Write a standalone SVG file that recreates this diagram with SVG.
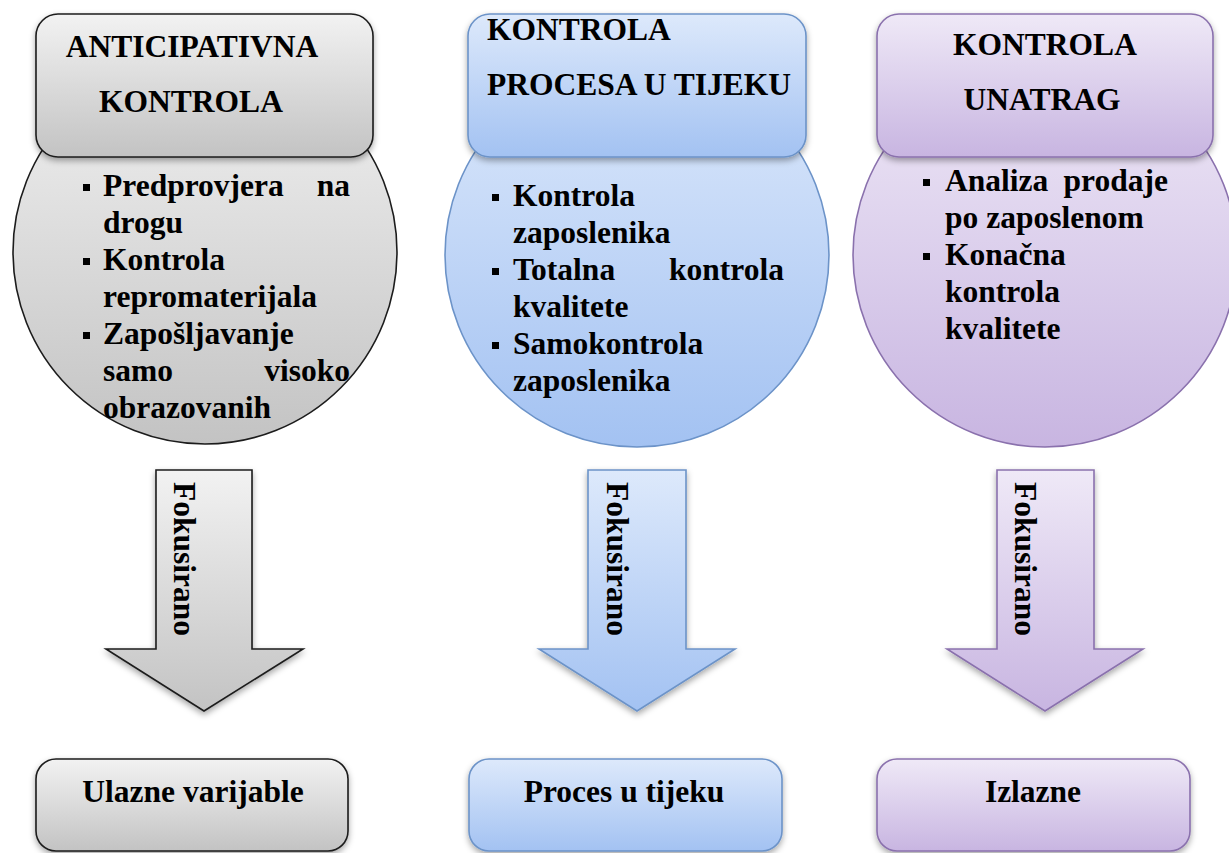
<svg xmlns="http://www.w3.org/2000/svg" width="1229" height="853" viewBox="0 0 1229 853">
<defs>
<linearGradient id="gGray" x1="0" y1="0" x2="0" y2="1"><stop offset="0" stop-color="#f2f2f2"/><stop offset="1" stop-color="#c3c3c3"/></linearGradient>
<linearGradient id="gBlue" x1="0" y1="0" x2="0" y2="1"><stop offset="0" stop-color="#dde9fb"/><stop offset="1" stop-color="#a3c2f2"/></linearGradient>
<linearGradient id="gPurple" x1="0" y1="0" x2="0" y2="1"><stop offset="0" stop-color="#efe9f7"/><stop offset="1" stop-color="#c8b5e1"/></linearGradient>
<filter id="sh" x="-10%" y="-10%" width="120%" height="130%"><feDropShadow dx="0" dy="3" stdDeviation="3" flood-color="#000" flood-opacity="0.35"/></filter>
<style>
text{font-family:"Liberation Serif","Times New Roman",serif;font-weight:bold;font-size:31.5px;fill:#000}
.gray{fill:url(#gGray);stroke:#1c1c1c;stroke-width:1.6}
.blue{fill:url(#gBlue);stroke:#6c93c8;stroke-width:1.6}
.purple{fill:url(#gPurple);stroke:#8a71ad;stroke-width:1.6}
.box{filter:url(#sh)}
.b{fill:#000}
.mid{text-anchor:middle}
.end{text-anchor:end}
</style>
</defs>
<rect width="1229" height="853" fill="#fff"/>

<!-- Column 1 -->
<g id="circle-anticipativna">
<circle class="gray" cx="205" cy="252" r="192"/>
<rect class="b" x="83" y="184" width="7" height="7"/>
<text x="103" y="196">Predprovjera</text><text class="end" x="350" y="196">na</text>
<text x="103" y="233">drogu</text>
<rect class="b" x="83" y="258" width="7" height="7"/>
<text x="103" y="270">Kontrola</text>
<text x="103" y="307">repromaterijala</text>
<rect class="b" x="83" y="332" width="7" height="7"/>
<text x="103" y="344">Zapošljavanje</text>
<text x="103" y="381">samo</text><text class="end" x="350" y="381">visoko</text>
<text x="103" y="418">obrazovanih</text>
</g>
<g id="title-anticipativna">
<rect class="gray box" x="36" y="14" width="337" height="143" rx="22"/>
<text class="mid" x="192" y="57">ANTICIPATIVNA</text>
<text class="mid" x="191" y="112">KONTROLA</text>
</g>

<!-- Column 2 -->
<g id="circle-proces">
<circle class="blue" cx="637" cy="255" r="192"/>
<rect class="b" x="492" y="194" width="7" height="7"/>
<text x="513" y="206">Kontrola</text>
<text x="513" y="243">zaposlenika</text>
<rect class="b" x="492" y="268" width="7" height="7"/>
<text x="513" y="280">Totalna</text><text class="end" x="784" y="280">kontrola</text>
<text x="513" y="317">kvalitete</text>
<rect class="b" x="492" y="342" width="7" height="7"/>
<text x="513" y="354">Samokontrola</text>
<text x="513" y="391">zaposlenika</text>
</g>
<g id="title-proces">
<rect class="blue box" x="468" y="14" width="338" height="143" rx="22"/>
<text x="487" y="40">KONTROLA</text>
<text x="487" y="95">PROCESA U TIJEKU</text>
</g>

<!-- Column 3 -->
<g id="circle-unatrag">
<circle class="purple" cx="1045" cy="255" r="192"/>
<rect class="b" x="923" y="179" width="7" height="7"/>
<text x="945" y="191">Analiza</text><text class="end" x="1168" y="191">prodaje</text>
<text x="945" y="228">po zaposlenom</text>
<rect class="b" x="923" y="253" width="7" height="7"/>
<text x="945" y="265">Konačna</text>
<text x="945" y="302">kontrola</text>
<text x="945" y="339">kvalitete</text>
</g>
<g id="title-unatrag">
<rect class="purple box" x="877" y="14" width="336" height="143" rx="22"/>
<text class="mid" x="1045" y="55">KONTROLA</text>
<text class="mid" x="1042" y="110">UNATRAG</text>
</g>

<!-- Connectors: block arrows -->
<g id="connectors">
<g id="arrow-1">
<path class="gray box" d="M156,470 H252 V649 H303 L204,711 L106,649 H156 Z"/>
<text transform="translate(174,482) rotate(90)">Fokusirano</text>
</g>
<g id="arrow-2">
<path class="blue box" d="M588,470 H686 V649 H735 L637,711 L539,649 H588 Z"/>
<text transform="translate(607,482) rotate(90)">Fokusirano</text>
</g>
<g id="arrow-3">
<path class="purple box" d="M997,470 H1094 V649 H1143 L1045,711 L947,649 H997 Z"/>
<text transform="translate(1015,482) rotate(90)">Fokusirano</text>
</g>
</g>

<!-- Bottom boxes -->
<g id="box-ulazne">
<rect class="gray box" x="36" y="759" width="312" height="92" rx="20"/>
<text class="mid" x="193" y="802">Ulazne varijable</text>
</g>
<g id="box-proces">
<rect class="blue box" x="469" y="759" width="313" height="92" rx="20"/>
<text class="mid" x="624" y="802">Proces u tijeku</text>
</g>
<g id="box-izlazne">
<rect class="purple box" x="877" y="759" width="313" height="92" rx="20"/>
<text class="mid" x="1033" y="802">Izlazne</text>
</g>
</svg>
